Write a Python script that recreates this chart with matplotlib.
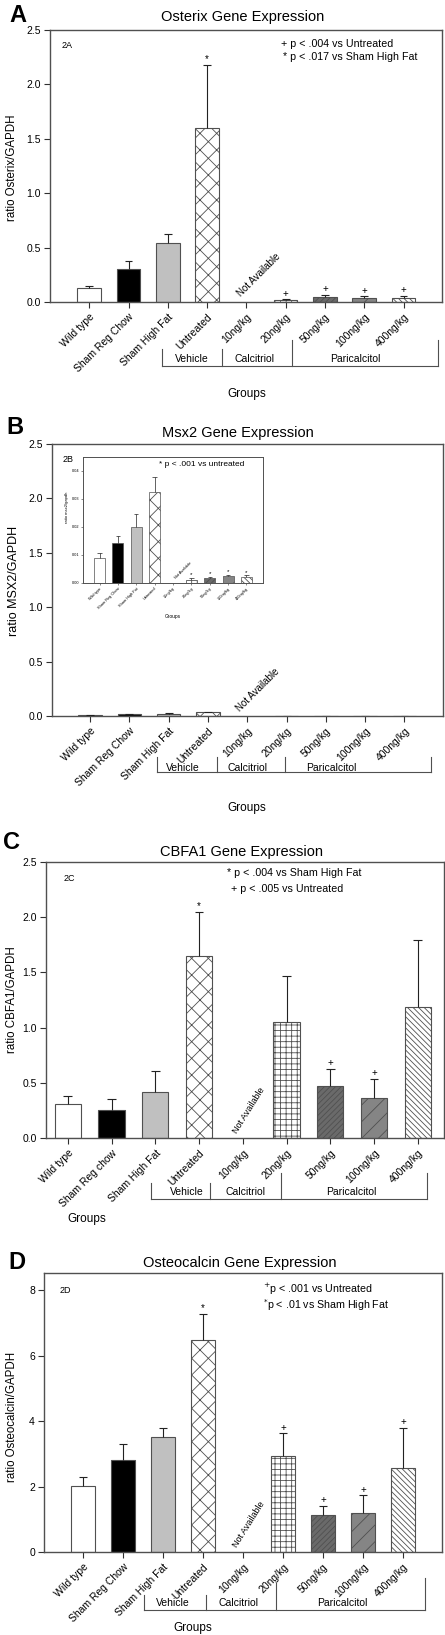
import numpy as np
import matplotlib
matplotlib.use("Agg")
import matplotlib.pyplot as plt
import matplotlib.transforms as mtransforms

plt.rcParams['font.family'] = ['Liberation Sans', 'DejaVu Sans']
plt.rcParams['hatch.linewidth'] = 0.6

nan = np.nan
# ---------------- data ----------------
categories = ["Wild type", "Sham Reg Chow", "Sham High Fat", "Untreated", "10ng/kg",
              "20ng/kg", "50ng/kg", "100ng/kg", "400ng/kg"]
categories_C = ["Wild type", "Sham Reg chow", "Sham High Fat", "Untreated", "10ng/kg",
                "20ng/kg", "50ng/kg", "100ng/kg", "400ng/kg"]
groups = ["Vehicle", "Calcitriol", "Paricalcitol"]

osterix = [0.128, 0.303, 0.545, 1.597, nan, 0.018, 0.043, 0.037, 0.034]
osterix_err = [0.02, 0.07, 0.08, 0.58, nan, 0.007, 0.024, 0.015, 0.021]
osterix_sig = ["", "", "", "*", "", "+", "+", "+", "+"]

msx2 = [0.0089, 0.0144, 0.0200, 0.0324, nan, 0.0011, 0.0017, 0.0025, 0.0021]
msx2_err = [0.0018, 0.0023, 0.0045, 0.0056, nan, 0.0006, 0.0004, 0.0005, 0.0006]
msx2_sig = ["", "", "", "", "", "*", "*", "*", "*"]

cbfa1 = [0.308, 0.25, 0.42, 1.652, nan, 1.05, 0.471, 0.362, 1.187]
cbfa1_err = [0.069, 0.103, 0.19, 0.395, nan, 0.42, 0.154, 0.172, 0.603]
cbfa1_sig = ["", "", "", "*", "", "", "+", "+", ""]

osteocalcin = [2.01, 2.81, 3.53, 6.49, nan, 2.93, 1.14, 1.20, 2.58]
osteocalcin_err = [0.27, 0.48, 0.25, 0.80, nan, 0.70, 0.27, 0.53, 1.21]
osteocalcin_sig = ["", "", "", "*", "", "+", "+", "+", "+"]

# ---------------- styles ----------------
fills = ['white', 'black', '#c0c0c0', 'white', 'white', 'white', '#6a6a6a', '#858585', 'white']
hatches = [None, None, None, 'xx', None, '+++', '//////', '//', '\\\\\\\\\\\\']

W, H = 445, 1635
fig = plt.figure(figsize=(W / 100, H / 100), dpi=100)


def rect(l, r, t, b):
    return [l / W, 1 - b / H, (r - l) / W, (b - t) / H]


def draw_bars(ax, vals, errs, sigs, width=0.6, capw=0.1, lw=0.8, sigfs=7, ecol='#222222'):
    x = np.arange(len(vals))
    for i, (v, e) in enumerate(zip(vals, errs)):
        if np.isnan(v):
            continue
        ax.bar(i, v, width=width, color=fills[i], edgecolor='#505050', linewidth=lw,
               hatch=hatches[i], zorder=2)
        ax.vlines(i, v, v + e, color=ecol, lw=lw, zorder=3)
        ax.hlines(v + e, i - capw, i + capw, color=ecol, lw=lw, zorder=3)
        if sigs[i]:
            ax.annotate(sigs[i], (i, v + e), xytext=(0, 0.5), textcoords='offset points',
                        ha='center', va='bottom', fontsize=sigfs)
    return x


def style_axes(ax, labels, xlim, ylim, yticks, yfmt, fs=7.5, xfs=7.5):
    ax.set_xlim(*xlim)
    ax.set_ylim(*ylim)
    ax.set_xticks(np.arange(len(labels)))
    ax.set_xticklabels(labels, rotation=45, ha='right', rotation_mode='anchor', fontsize=xfs)
    ax.set_yticks(yticks)
    ax.set_yticklabels([yfmt.format(t) for t in yticks], fontsize=fs)
    ax.tick_params(direction='out', length=4, width=0.8, color='#303030', pad=2.5)
    ax.tick_params(axis='x', pad=3)
    for s in ax.spines.values():
        s.set_color('#505050')
        s.set_linewidth(1.0)


def brackets(ax, xs, ys_top, y_bot, label_x, label_y, fs=7.5):
    tr = mtransforms.blended_transform_factory(ax.transData, ax.transAxes)
    for xv, yt in zip(xs, ys_top):
        ax.plot([xv, xv], [yt, y_bot], transform=tr, color='#505050', lw=0.8, clip_on=False)
    ax.plot([xs[0], xs[-1]], [y_bot, y_bot], transform=tr, color='#505050', lw=0.8, clip_on=False)
    for g, lx in zip(groups, label_x):
        ax.text(lx, label_y, g, transform=tr, ha='center', va='center', fontsize=fs)


def ftext(x, y, s, **kw):
    fig.text(x / W, 1 - y / H, s, **kw)


# ================= Panel A =================
axA = fig.add_axes(rect(50, 442, 30, 302))
draw_bars(axA, osterix, osterix_err, osterix_sig)
style_axes(axA, categories, (-1, 8.98), (0, 2.5), [0, 0.5, 1.0, 1.5, 2.0, 2.5], "{:.1f}")
ftext(12, 168, "ratio Osterix/GAPDH", fontsize=8.3, rotation=90, ha='center', va='center')
axA.text(0.03, 0.96, "2A", transform=axA.transAxes, fontsize=6.5, va='top')
axA.text(0.59, 0.968, "+ p < .004 vs Untreated", transform=axA.transAxes, fontsize=7.7, va='top')
axA.text(0.595, 0.918, "* p < .017 vs Sham High Fat", transform=axA.transAxes, fontsize=7.7, va='top')
axA.text(3.9, 0.03, "Not Available", rotation=45, rotation_mode='anchor', ha='left',
         va='bottom', fontsize=7)
brackets(axA, [1.86, 3.38, 5.16, 8.88], [-0.173, -0.173, -0.14, -0.14], -0.235,
         [2.6, 4.2, 6.77], -0.21)
ftext(243, 17, "Osterix Gene Expression", fontsize=10.5, ha='center', va='center')
ftext(18, 15, "A", fontsize=17, fontweight='bold', ha='center', va='center')
ftext(247, 394, "Groups", fontsize=8.5, ha='center', va='center')

# ================= Panel B =================
axB = fig.add_axes(rect(52, 443, 444, 716))
draw_bars(axB, msx2, msx2_err, ["" for _ in msx2], capw=0.1)
style_axes(axB, categories, (-0.97, 8.98), (0, 2.5), [0, 0.5, 1.0, 1.5, 2.0, 2.5], "{:.1f}")
ftext(14, 581, "ratio MSX2/GAPDH", fontsize=9, rotation=90, ha='center', va='center')
axB.text(0.028, 0.96, "2B", transform=axB.transAxes, fontsize=6.5, va='top')
axB.text(3.85, 0.02, "Not Available", rotation=45, rotation_mode='anchor', ha='left',
         va='bottom', fontsize=7)
brackets(axB, [1.70, 3.22, 4.97, 8.68], [-0.151, -0.151, -0.151, -0.151], -0.206,
         [2.36, 4.0, 6.14], -0.19)
ftext(238, 433, "Msx2 Gene Expression", fontsize=10.5, ha='center', va='center')
ftext(15, 427, "B", fontsize=17, fontweight='bold', ha='center', va='center')
ftext(247, 808, "Groups", fontsize=8.5, ha='center', va='center')

# inset
axI = fig.add_axes(rect(83, 263, 457, 583))
draw_bars(axI, msx2, msx2_err, msx2_sig, width=0.6, capw=0.12, lw=0.5, sigfs=4.5)
style_axes(axI, categories, (-0.9, 8.9), (0, 0.045), [0, 0.01, 0.02, 0.03, 0.04], "{:.2f}",
           fs=2.8, xfs=2.8)
axI.tick_params(length=1.5, width=0.4, pad=1)
for s in axI.spines.values():
    s.set_linewidth(0.7)
axI.set_ylabel("ratio msx2/gapdh", fontsize=3)
axI.yaxis.set_label_coords(-0.08, 0.6)
axI.set_xlabel("Groups", fontsize=3.5, labelpad=3)
axI.text(0.42, 0.97, "* p < .001 vs untreated", transform=axI.transAxes, fontsize=6, va='top')
axI.text(4.2, 0.001, "Not Available", rotation=45, rotation_mode='anchor', ha='left',
         va='bottom', fontsize=2.8)

# ================= Panel C =================
axC = fig.add_axes(rect(46, 444, 862, 1138))
draw_bars(axC, cbfa1, cbfa1_err, cbfa1_sig, width=0.6)
style_axes(axC, categories_C, (-0.5, 8.6), (0, 2.5), [0, 0.5, 1.0, 1.5, 2.0, 2.5], "{:.1f}")
ftext(12, 1000, "ratio CBFA1/GAPDH", fontsize=8.3, rotation=90, ha='center', va='center')
axC.text(0.045, 0.955, "2C", transform=axC.transAxes, fontsize=6.5, va='top')
axC.text(0.455, 0.978, "* p < .004 vs Sham High Fat", transform=axC.transAxes, fontsize=7.7, va='top')
axC.text(0.465, 0.922, "+ p < .005 vs Untreated", transform=axC.transAxes, fontsize=7.7, va='top')
axC.text(3.9, 0.03, "Not Available", rotation=58, rotation_mode='anchor', ha='left',
         va='bottom', fontsize=6.5)
brackets(axC, [1.89, 3.26, 4.87, 8.22], [-0.163, -0.163, -0.127, -0.127], -0.221,
         [2.71, 4.05, 6.49], -0.196)
ftext(242, 852, "CBFA1 Gene Expression", fontsize=10.5, ha='center', va='center')
ftext(11, 842, "C", fontsize=17, fontweight='bold', ha='center', va='center')
ftext(87, 1219, "Groups", fontsize=8.5, ha='center', va='center')

# ================= Panel D =================
axD = fig.add_axes(rect(44, 442, 1273, 1552))
draw_bars(axD, osteocalcin, osteocalcin_err, osteocalcin_sig, width=0.6)
style_axes(axD, categories, (-0.97, 8.97), (0, 8.53), [0, 2, 4, 6, 8], "{:d}")
ftext(12, 1417, "ratio Osteocalcin/GAPDH", fontsize=8.3, rotation=90, ha='center', va='center')
axD.text(0.04, 0.955, "2D", transform=axD.transAxes, fontsize=6.5, va='top')
axD.text(0.55, 0.968, "$^{+}$p < .001 vs Untreated", transform=axD.transAxes, fontsize=7.7, va='top')
axD.text(0.55, 0.915, "$^{*}$p < .01 vs Sham High Fat", transform=axD.transAxes, fontsize=7.7, va='top')
axD.text(3.9, 0.08, "Not Available", rotation=58, rotation_mode='anchor', ha='left',
         va='bottom', fontsize=6.5)
brackets(axD, [1.53, 3.08, 4.83, 8.55], [-0.154, -0.154, -0.111, -0.093], -0.208,
         [2.25, 3.88, 6.48], -0.183)
ftext(240, 1263, "Osteocalcin Gene Expression", fontsize=10.5, ha='center', va='center')
ftext(17, 1262, "D", fontsize=17, fontweight='bold', ha='center', va='center')
ftext(193, 1628, "Groups", fontsize=8.5, ha='center', va='center')

fig.savefig("out.png", dpi=100)
